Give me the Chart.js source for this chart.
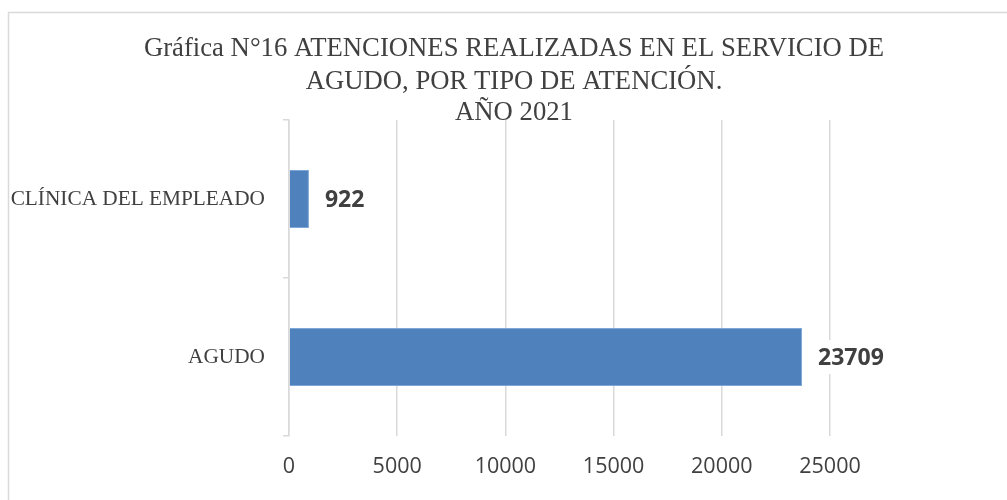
<!DOCTYPE html>
<html>
<head>
<meta charset="utf-8">
<script src="https://cdn.jsdelivr.net/npm/chart.js@4"></script>
<style>
html,body{margin:0;padding:0;background:#fff;overflow:hidden;}
#wrap{position:absolute;left:0;top:0;width:1007px;height:500px;}
</style>
</head>
<body>
<div id="wrap"><canvas id="c" width="1007" height="500"></canvas></div>
<script>
const categories = ['CLÍNICA DEL EMPLEADO', 'AGUDO'];
const values = [922, 23709];
const titleLines = ['Gráfica N°16 ATENCIONES REALIZADAS EN EL SERVICIO DE', 'AGUDO, POR TIPO DE ATENCIÓN.', 'AÑO 2021'];
const xMin = 0, xMax = 25000, xStep = 5000;

const textColor = '#404040';
const gridColor = '#d9d9d9';

const framePlugin = {
  id: 'frame',
  beforeDraw(chart) {
    const ctx = chart.ctx;
    ctx.save();
    ctx.fillStyle = '#fff';
    ctx.fillRect(0, 0, chart.width, chart.height);
    ctx.strokeStyle = gridColor;
    ctx.lineWidth = 1.5;
    ctx.beginPath();
    ctx.moveTo(8.5, chart.height + 5);
    ctx.lineTo(8.5, 12.5);
    ctx.lineTo(chart.width + 5, 12.5);
    ctx.stroke();
    ctx.restore();
  }
};

const titlePlugin = {
  id: 'titleText',
  afterDraw(chart) {
    const ctx = chart.ctx;
    ctx.save();
    ctx.fillStyle = textColor;
    ctx.font = '26.7px "Liberation Serif", "Times New Roman", serif';
    ctx.textAlign = 'center';
    ctx.textBaseline = 'middle';
    const ys = [49, 82, 113];
    titleLines.forEach((t, i) => ctx.fillText(t, 514, ys[i]));
    ctx.restore();
  }
};

const labelPlugin = {
  id: 'valueLabels',
  afterDatasetsDraw(chart) {
    const ctx = chart.ctx;
    const meta = chart.getDatasetMeta(0);
    ctx.save();
    ctx.font = 'bold 23px "Open Sans", "Liberation Sans", sans-serif';
    ctx.textAlign = 'left';
    ctx.textBaseline = 'middle';
    meta.data.forEach((bar, i) => {
      const txt = String(chart.data.datasets[0].data[i]);
      const x = bar.x + 16;
      const w = ctx.measureText(txt).width;
      ctx.fillStyle = '#fff';
      ctx.fillRect(x - 2, bar.y - 17, w + 4, 34);
      ctx.fillStyle = textColor;
      ctx.fillText(txt, x, bar.y + 1);
    });
    ctx.restore();
  }
};

new Chart(document.getElementById('c'), {
  type: 'bar',
  data: {
    labels: categories,
    datasets: [{
      data: values,
      backgroundColor: '#4f81bd',
      borderColor: '#7ea6d6',
      borderWidth: 1,
      barPercentage: 0.367,
      categoryPercentage: 1
    }]
  },
  options: {
    indexAxis: 'y',
    responsive: false,
    animation: false,
    devicePixelRatio: 1,
    layout: { padding: { top: 120, right: 177, left: 0, bottom: 0 } },
    plugins: {
      legend: { display: false },
      title: { display: false },
      tooltip: { enabled: false }
    },
    scales: {
      x: {
        min: xMin, max: xMax,
        ticks: {
          stepSize: xStep,
          padding: 18,
          color: textColor,
          font: { family: '"Open Sans", "Liberation Sans", sans-serif', size: 21.5 },
          callback: v => String(v)
        },
        grid: { color: gridColor, lineWidth: 1.5, drawTicks: false },
        border: { display: false },
        afterFit(s) { s.height = 64; }
      },
      y: {
        ticks: {
          padding: 18,
          color: textColor,
          font: { family: '"Liberation Serif", "Times New Roman", serif', size: 21.3 }
        },
        grid: { color: gridColor, lineWidth: 1.5, drawOnChartArea: false, drawTicks: true, tickLength: 6 },
        border: { display: true, color: gridColor, width: 1.5 },
        afterFit(s) { s.width = 289; }
      }
    }
  },
  plugins: [framePlugin, titlePlugin, labelPlugin]
});
</script>
</body>
</html>
